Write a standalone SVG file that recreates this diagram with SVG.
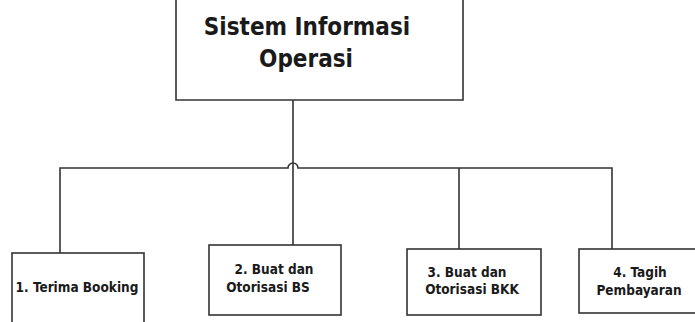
<svg xmlns="http://www.w3.org/2000/svg" width="695" height="322" viewBox="0 0 695 322">
  <style>
    .box { fill: #ffffff; stroke: #333333; stroke-width: 1.6; }
    .wire { fill: none; stroke: #333333; stroke-width: 1.6; }
    .title { font-family: "DejaVu Sans Condensed", "DejaVu Sans", "Liberation Sans", sans-serif; font-weight: bold; font-size: 24px; fill: #1a1a1a; text-anchor: middle; }
    .label { font-family: "DejaVu Sans Condensed", "DejaVu Sans", "Liberation Sans", sans-serif; font-weight: bold; font-size: 13.5px; fill: #1a1a1a; text-anchor: middle; }
  </style>
  <rect width="695" height="322" fill="#ffffff"/>

  <!-- connectors -->
  <g id="connectors">
    <!-- trunk from the root down to node 2 -->
    <line class="wire" x1="293" y1="100" x2="293" y2="245"/>
    <!-- horizontal bus with a hop over the trunk -->
    <path class="wire" d="M60 253 V168 H288 A5 5 0 0 1 298 168 H612 V249"/>
    <line class="wire" x1="459" y1="168" x2="459" y2="249"/>
  </g>

  <!-- root node (top edge runs off the canvas) -->
  <g id="root">
    <path class="box" d="M176 -2 V100 H463 V-2"/>
    <text class="title" x="307" y="35">Sistem Informasi</text>
    <text class="title" x="306" y="67">Operasi</text>
  </g>

  <g id="node1">
    <rect class="box" x="12" y="253" width="132" height="80"/>
    <text class="label" x="77" y="292">1. Terima Booking</text>
  </g>

  <g id="node2">
    <rect class="box" x="209" y="245" width="132" height="70"/>
    <text class="label" x="274" y="274">2. Buat dan</text>
    <text class="label" x="268" y="292">Otorisasi BS</text>
  </g>

  <g id="node3">
    <rect class="box" x="407" y="249" width="134" height="66"/>
    <text class="label" x="467" y="277">3. Buat dan</text>
    <text class="label" x="472" y="294">Otorisasi BKK</text>
  </g>

  <g id="node4">
    <rect class="box" x="579" y="249" width="130" height="64"/>
    <text class="label" x="640" y="277">4. Tagih</text>
    <text class="label" x="639" y="295">Pembayaran</text>
  </g>
</svg>
